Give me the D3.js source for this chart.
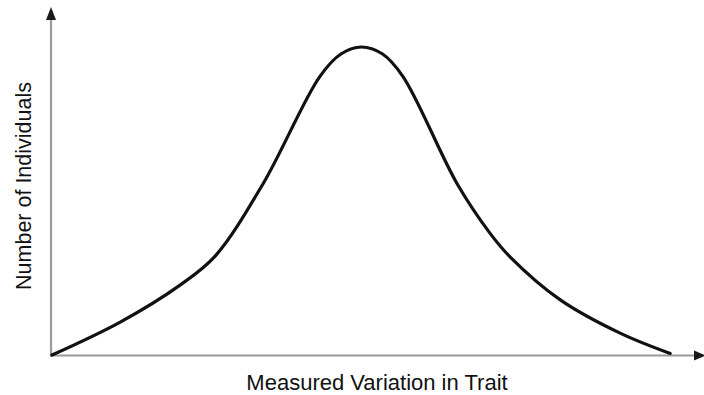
<!DOCTYPE html>
<html>
<head>
<meta charset="utf-8">
<script src="https://cdn.jsdelivr.net/npm/d3@7"></script>
<style>
  html, body { margin: 0; padding: 0; background: #fff; }
  svg { display: block; }
  text { font-family: "Liberation Sans", Arial, Helvetica, sans-serif; fill: #111; }
</style>
</head>
<body>
<svg id="chart" width="704" height="395"></svg>
<script>
// Trait measurement (arbitrary units) along the horizontal axis
const traitValues = [0, 10.5, 19.7, 25.1, 32.5, 41.2, 44.5, 47.6, 50.8, 54.0, 62.3, 67.4, 70.5, 78.2, 87.4, 95.1];
// Relative number of individuals at each trait value
const individualCounts = [0, 10.7, 22.7, 32.1, 55.7, 90.4, 97.8, 100, 97.8, 90.4, 55.7, 39.5, 31.8, 17.9, 7.1, 0.5];

const xLabel = "Measured Variation in Trait";
const yLabel = "Number of Individuals";

const svg = d3.select("#chart");

const x = d3.scaleLinear().domain([0, 100]).range([52, 702]);
const y = d3.scaleLinear().domain([0, 100]).range([355, 47]);

// Axes: plain grey lines with dark arrowheads
const axisColor = "#9a9a9a";
const axisY0 = y(0) + 0.5;
svg.append("line")
  .attr("x1", x(0) - 1).attr("x2", x(0) - 1)
  .attr("y1", axisY0 + 1).attr("y2", 18)
  .attr("stroke", axisColor).attr("stroke-width", 2.2);
svg.append("line")
  .attr("x1", x(0) - 2).attr("x2", 696)
  .attr("y1", axisY0).attr("y2", axisY0)
  .attr("stroke", axisColor).attr("stroke-width", 2.2);

// arrowheads
svg.append("path")
  .attr("d", `M${x(0) - 1},7 L${x(0) - 6},20 L${x(0) + 4},20 Z`)
  .attr("fill", "#1a1a1a");
svg.append("path")
  .attr("d", `M706,${axisY0} L694,${axisY0 - 5} L694,${axisY0 + 5} Z`)
  .attr("fill", "#1a1a1a");

// Distribution curve
const pts = traitValues.map((t, i) => [t, individualCounts[i]]);
const line = d3.line()
  .x(d => x(d[0]))
  .y(d => y(d[1]))
  .curve(d3.curveCatmullRom.alpha(0.5));

svg.append("path")
  .datum(pts)
  .attr("d", line)
  .attr("fill", "none")
  .attr("stroke", "#111")
  .attr("stroke-width", 3.2)
  .attr("stroke-linecap", "round")
  .attr("stroke-linejoin", "round");

// Axis titles
svg.append("text")
  .attr("x", 377).attr("y", 390)
  .attr("text-anchor", "middle")
  .attr("font-size", 22)
  .text(xLabel);

svg.append("text")
  .attr("transform", "translate(31,186) rotate(-90)")
  .attr("text-anchor", "middle")
  .attr("font-size", 21.5)
  .text(yLabel);
</script>
</body>
</html>
